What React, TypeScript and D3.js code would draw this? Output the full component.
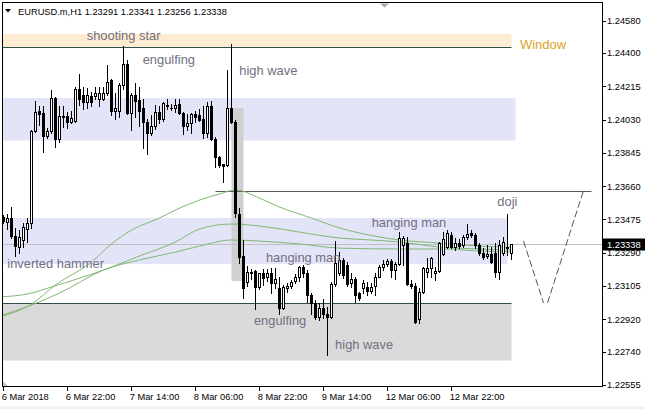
import React from 'react';
import * as d3 from 'd3';

const headerText = 'EURUSD.m,H1  1.23291 1.23341 1.23256 1.23338';

const opens = [
  1.23489,1.23461,1.23483,1.23383,1.23322,1.23361,1.23422,1.23455,1.23967,1.24078,
  1.24067,1.23939,1.23967,1.24150,1.23922,1.24047,1.24050,1.24017,1.24022,1.24200,
  1.24167,1.24128,1.24161,1.24161,1.24145,1.24145,1.24178,1.24250,1.24078,1.24078,
  1.24222,1.24339,1.24067,1.24167,1.24139,1.24095,1.24017,1.23956,1.23995,1.24072,
  1.24033,1.24106,1.24095,1.24095,1.24117,1.24067,1.23995,1.24011,1.24061,1.24056,
  1.24033,1.23956,1.24106,1.23922,1.23822,1.23783,1.23778,1.24095,1.24017,1.23505,
  1.23272,1.23127,1.23183,1.23189,1.23100,1.23177,1.23155,1.23177,1.23122,1.23094,
  1.22983,1.23094,1.23105,1.23133,1.23155,1.23211,1.23177,1.23055,1.23011,1.22933,
  1.22983,1.22950,1.22933,1.23116,1.23177,1.23250,1.23222,1.23122,1.23144,1.23066,
  1.23094,1.23100,1.23077,1.23105,1.23155,1.23211,1.23227,1.23244,1.23194,1.23227,
  1.23333,1.23344,1.23116,1.23105,1.22922,1.23072,1.23183,1.23205,1.23177,1.23189,
  1.23283,1.23322,1.23389,1.23322,1.23344,1.23333,1.23378,1.23400,1.23389,1.23333,
  1.23289,1.23272,1.23283,1.23289,1.23183,1.23289,1.23322,1.23291,
];
const highs = [
  1.23500,1.23505,1.23544,1.23428,1.23416,1.23455,1.23483,1.23972,1.24134,1.24106,
  1.24106,1.23983,1.24195,1.24156,1.24106,1.24106,1.24072,1.24078,1.24211,1.24284,
  1.24211,1.24206,1.24184,1.24211,1.24211,1.24211,1.24334,1.24256,1.24178,1.24234,
  1.24439,1.24361,1.24178,1.24234,1.24211,1.24145,1.24033,1.24056,1.24111,1.24106,
  1.24128,1.24145,1.24117,1.24145,1.24145,1.24072,1.24061,1.24067,1.24078,1.24089,
  1.24106,1.24128,1.24134,1.23933,1.23828,1.23783,1.24306,1.24450,1.24028,1.23539,
  1.23361,1.23216,1.23200,1.23194,1.23177,1.23200,1.23200,1.23205,1.23205,1.23155,
  1.23111,1.23122,1.23139,1.23172,1.23216,1.23222,1.23194,1.23066,1.23027,1.23011,
  1.23033,1.22988,1.23127,1.23355,1.23294,1.23261,1.23238,1.23177,1.23155,1.23072,
  1.23139,1.23127,1.23122,1.23177,1.23222,1.23250,1.23255,1.23255,1.23238,1.23405,
  1.23383,1.23378,1.23139,1.23122,1.23094,1.23211,1.23261,1.23266,1.23211,1.23350,
  1.23405,1.23416,1.23405,1.23372,1.23366,1.23389,1.23450,1.23416,1.23400,1.23344,
  1.23316,1.23333,1.23322,1.23344,1.23361,1.23378,1.23505,1.23341,
];
const lows = [
  1.23455,1.23422,1.23372,1.23272,1.23289,1.23322,1.23350,1.23428,1.23961,1.24000,
  1.23850,1.23928,1.23956,1.23878,1.23906,1.23989,1.23983,1.24011,1.24017,1.24111,
  1.24089,1.24095,1.24106,1.24145,1.24106,1.24139,1.24167,1.24056,1.24033,1.24045,
  1.24200,1.24061,1.23972,1.24045,1.23995,1.23872,1.23839,1.23945,1.23978,1.24011,
  1.24022,1.24089,1.24084,1.24072,1.24061,1.23950,1.23972,1.23956,1.24017,1.24022,
  1.23928,1.23933,1.23917,1.23767,1.23767,1.23683,1.23772,1.24011,1.23489,1.23233,
  1.23038,1.23105,1.23144,1.22977,1.23088,1.23111,1.23133,1.23066,1.23094,1.22950,
  1.22977,1.23072,1.23094,1.23122,1.23133,1.23155,1.23016,1.22950,1.22922,1.22916,
  1.22927,1.22722,1.22927,1.23105,1.23166,1.23150,1.23105,1.23100,1.23016,1.23027,
  1.23066,1.23055,1.23066,1.23055,1.23155,1.23194,1.23216,1.23155,1.23144,1.23222,
  1.23222,1.23111,1.23094,1.22899,1.22899,1.23066,1.23155,1.23155,1.23139,1.23183,
  1.23277,1.23316,1.23316,1.23305,1.23316,1.23322,1.23366,1.23378,1.23316,1.23277,
  1.23255,1.23261,1.23233,1.23155,1.23144,1.23277,1.23277,1.23256,
];
const closes = [
  1.23466,1.23483,1.23383,1.23327,1.23378,1.23433,1.23455,1.23967,1.24072,1.24061,
  1.23939,1.23967,1.24150,1.23922,1.24050,1.24050,1.24017,1.24039,1.24200,1.24145,
  1.24128,1.24167,1.24128,1.24178,1.24178,1.24178,1.24239,1.24078,1.24095,1.24222,
  1.24339,1.24067,1.24167,1.24134,1.24078,1.24017,1.23956,1.23995,1.24072,1.24033,
  1.24122,1.24111,1.24097,1.24111,1.24067,1.23995,1.24011,1.24061,1.24045,1.24028,
  1.23956,1.24106,1.23922,1.23822,1.23778,1.23772,1.24095,1.24017,1.23511,1.23266,
  1.23094,1.23183,1.23177,1.23100,1.23177,1.23150,1.23177,1.23122,1.23144,1.22983,
  1.23100,1.23105,1.23127,1.23155,1.23211,1.23177,1.23055,1.23011,1.22933,1.22983,
  1.22950,1.22933,1.23116,1.23233,1.23250,1.23166,1.23116,1.23144,1.23055,1.23038,
  1.23122,1.23077,1.23100,1.23155,1.23211,1.23227,1.23244,1.23194,1.23227,1.23372,
  1.23372,1.23116,1.23105,1.22905,1.23072,1.23205,1.23205,1.23261,1.23189,1.23344,
  1.23366,1.23400,1.23322,1.23344,1.23327,1.23378,1.23394,1.23389,1.23333,1.23289,
  1.23266,1.23283,1.23238,1.23183,1.23333,1.23350,1.23316,1.23338,
];

// moving averages (sampled at bar indices)
const maFastIdx = [-1, 7, 13, 22, 27, 32, 39, 43, 49, 54, 58, 64, 69, 77, 84, 89, 99, 109, 119, 127];
const maFastVal = [1.22933,1.23005,1.23111,1.23238,1.23339,1.23416,1.23483,1.23528,1.23583,1.23617,1.23639,1.23594,1.23544,1.23483,1.23428,1.23400,1.23361,1.23344,1.23327,1.23322];
const maMidIdx = [-1, 7, 12, 25, 34, 43, 49, 57, 66, 74, 84, 92, 99, 109, 119, 127];
const maMidVal = [1.23044,1.23066,1.23100,1.23194,1.23272,1.23350,1.23422,1.23450,1.23433,1.23405,1.23372,1.23361,1.23350,1.23322,1.23311,1.23305];
const maSlowIdx = [-1, 7, 14, 25, 34, 43, 49, 57, 64, 74, 84, 99, 109, 119, 127];
const maSlowVal = [1.22938,1.23000,1.23066,1.23194,1.23250,1.23294,1.23327,1.23361,1.23355,1.23339,1.23316,1.23311,1.23311,1.23300,1.23294];

const timeTickIdx = [0, 16, 32, 48, 64, 80, 96, 112];
const timeTickLabels = ['6 Mar 2018', '6 Mar 22:00', '7 Mar 14:00', '8 Mar 06:00', '8 Mar 22:00', '9 Mar 14:00', '12 Mar 06:00', '12 Mar 22:00'];
const priceTicks = [1.2458, 1.244, 1.24215, 1.2403, 1.23845, 1.2366, 1.23475, 1.2329, 1.23105, 1.2292, 1.2274, 1.22555];
const priceTickLabels = ['1.24580', '1.24400', '1.24215', '1.24030', '1.23845', '1.23660', '1.23475', '1.23290', '1.23105', '1.22920', '1.22740', '1.22555'];
const lastPrice = 1.23338;
const lastPriceLabel = '1.23338';

// rectangles (zones)
const zoneTop = [1.24506, 1.2415, 1.23483, 1.23011];
const zoneBottom = [1.24434, 1.23914, 1.23227, 1.22691];
const zoneEndIdx = [127, 128, 126, 127];

// highlight rect
const hlIdx = [57, 60];
const hlPrice = [1.24095, 1.23133];

// horizontal lines
const windowLinePrice = 1.24432;
const supportLinePrice = 1.23011;
const levelLinePrice = 1.23636;
const levelLineIdx = [53, 147];

// projection (dashed zigzag)
const projAIdx = [130, 135];
const projAPrice = [1.23355, 1.23011];
const projBIdx = [136, 145];
const projBPrice = [1.23011, 1.23636];

// pattern labels
const labelTexts = ['shooting star', 'engulfing', 'high wave', 'inverted hammer', 'hanging man', 'hanging man', 'doji', 'engulfing', 'high wave'];
const labelIdx = [20.8, 34.8, 58.95, 0.95, 65.6, 92.05, 123.45, 62.6, 82.9];
const labelPrice = [1.24475, 1.24342, 1.24278, 1.23208, 1.23241, 1.23436, 1.2355, 1.22886, 1.22755];
const windowLabel = 'Window';
const windowLabelIdx = 129.1;
const windowLabelPrice = 1.24421;

const W = 645;
const H = 409;
const L = 2, R = 602, T = 2, B = 386;
const FONT = '"Liberation Sans", Arial, sans-serif';

export default function App() {
  const x = d3.scaleLinear().domain([0, 1]).range([3.5, 7.5]);
  const y = d3.scaleLinear().domain([1.22555, 1.2458]).range([385, 20.7]);

  const ry = (v: number) => Math.round(y(v));

  const maLine = (idx: number[], val: number[]) =>
    d3.line<number>()
      .x((_, i) => x(idx[i]))
      .y((d) => y(d))
      .curve(d3.curveMonotoneX)(val) || '';

  const candles = opens.map((o, i) => {
    const c = closes[i];
    const cx = x(i);
    const hi = ry(highs[i]);
    const lo = ry(lows[i]);
    const top = ry(Math.max(o, c));
    const bot = ry(Math.min(o, c));
    const bull = c >= o;
    return (
      <g key={i}>
        <line x1={cx} x2={cx} y1={hi} y2={lo + 1} stroke="#000" strokeWidth={1} />
        {bull && bot - top >= 1 ? (
          <rect x={cx - 1} y={top + 0.5} width={2} height={bot - top} fill="#fff" stroke="#000" strokeWidth={1} />
        ) : (
          <rect x={cx - 1.5} y={top} width={3} height={Math.max(1, bot - top + 1)} fill="#000" />
        )}
      </g>
    );
  });

  const maColor = '#7fb872';

  return (
    <svg width={W} height={H} style={{ position: 'absolute', left: 0, top: 0, background: '#fff' }} fontFamily={FONT}>
      <defs>
        <clipPath id="plot">
          <rect x={L} y={T} width={R - L} height={B - T} />
        </clipPath>
      </defs>
      <rect x={0} y={0} width={W} height={H} fill="#fff" />
      <rect x={0} y={406.5} width={W} height={3} fill="#f0f0f0" />

      <g clipPath="url(#plot)">
        {zoneTop.map((zt, k) => (
          <rect
            key={k}
            x={L}
            y={y(zt)}
            width={x(zoneEndIdx[k]) - L}
            height={y(zoneBottom[k]) - y(zt)}
            fill={['#feecd2', '#e4e4f8', '#e4e4f8', '#dadada'][k]}
          />
        ))}
        <rect
          x={x(hlIdx[0])}
          y={y(hlPrice[0])}
          width={x(hlIdx[1]) - x(hlIdx[0])}
          height={y(hlPrice[1]) - y(hlPrice[0])}
          fill="#d0d0d0"
        />
        <line x1={L} x2={x(zoneEndIdx[0])} y1={ry(windowLinePrice) + 0.5} y2={ry(windowLinePrice) + 0.5} stroke="#2f4f4f" strokeWidth={1} />
        <line x1={L} x2={x(zoneEndIdx[3])} y1={ry(supportLinePrice) + 0.5} y2={ry(supportLinePrice) + 0.5} stroke="#2f4f4f" strokeWidth={1} />
        <line x1={L} x2={R} y1={ry(lastPrice) + 0.5} y2={ry(lastPrice) + 0.5} stroke="#c0c0c0" strokeWidth={1} />
        <line x1={x(levelLineIdx[0])} x2={x(levelLineIdx[1])} y1={ry(levelLinePrice) + 0.5} y2={ry(levelLinePrice) + 0.5} stroke="#5a5a5a" strokeWidth={1} />

        <path d={maLine(maSlowIdx, maSlowVal)} fill="none" stroke={maColor} strokeWidth={1} />
        <path d={maLine(maMidIdx, maMidVal)} fill="none" stroke={maColor} strokeWidth={1} />
        <path d={maLine(maFastIdx, maFastVal)} fill="none" stroke={maColor} strokeWidth={1} />

        <line x1={x(projAIdx[0])} x2={x(projAIdx[1])} y1={y(projAPrice[0])} y2={y(projAPrice[1])} stroke="#555" strokeWidth={1} strokeDasharray="7,3" />
        <line x1={x(projBIdx[0])} x2={x(projBIdx[1])} y1={y(projBPrice[0])} y2={y(projBPrice[1])} stroke="#555" strokeWidth={1} strokeDasharray="7,3" />

        {candles}

        {labelTexts.map((t, k) => (
          <text key={k} x={x(labelIdx[k])} y={y(labelPrice[k])} fontSize={12.9} fill="#707080">{t}</text>
        ))}
        <text x={x(windowLabelIdx)} y={y(windowLabelPrice)} fontSize={13} fill="#daa520">{windowLabel}</text>
        <polygon points="3,381 3,386 8,386" fill="#c8c8c8" />
      </g>

      {/* frame */}
      <rect x={L + 0.5} y={T + 0.5} width={R - L} height={B - T} fill="none" stroke="#000" strokeWidth={1} />

      {/* header */}
      <polygon points="5,9 11,9 8,12.5" fill="#000" />
      <text x={18} y={15} fontSize={9.3} fill="#000">{headerText}</text>
      <polygon points="380,3.5 389,3.5 384.5,7.5" fill="#a8a8a8" />

      {/* price axis */}
      {priceTicks.map((p, k) => (
        <g key={k}>
          <line x1={R + 0.5} x2={R + 4} y1={ry(p) + 0.5} y2={ry(p) + 0.5} stroke="#000" />
          <text x={607} y={y(p) + 3.3} fontSize={9.3} fill="#000">{priceTickLabels[k]}</text>
        </g>
      ))}
      <rect x={603} y={ry(lastPrice) - 5.5} width={42} height={12} fill="#000" />
      <text x={607} y={y(lastPrice) + 3.6} fontSize={9.3} fill="#fff">{lastPriceLabel}</text>

      {/* time axis */}
      {timeTickIdx.map((ti, k) => (
        <g key={k}>
          <line x1={x(ti)} x2={x(ti)} y1={B + 0.5} y2={B + 5} stroke="#000" />
          <text x={x(ti) - 1.8} y={400} fontSize={9.3} fill="#000">{timeTickLabels[k]}</text>
        </g>
      ))}
    </svg>
  );
}
